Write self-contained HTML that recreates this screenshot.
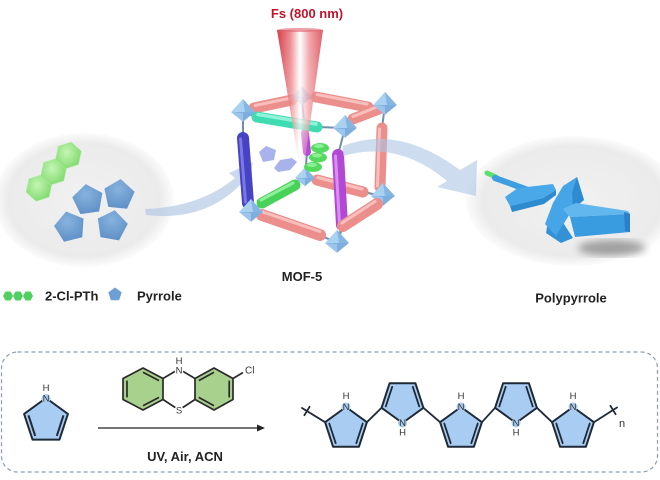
<!DOCTYPE html>
<html><head><meta charset="utf-8"><style>
html,body{margin:0;padding:0;background:#fff;}
svg{display:block;}
text{font-family:"Liberation Sans",Arial,sans-serif;}
</style></head><body>
<svg width="660" height="480" viewBox="0 0 660 480" xmlns="http://www.w3.org/2000/svg">
<defs>
<radialGradient id="gl" cx="50%" cy="50%" r="50%">
<stop offset="0" stop-color="#f1f1f1"/><stop offset="0.85" stop-color="#ebebeb"/><stop offset="1" stop-color="#ececec" stop-opacity="0.2"/>
</radialGradient>
<linearGradient id="beam" x1="0" x2="1" y1="0" y2="0">
<stop offset="0" stop-color="#d6303c"/><stop offset="0.3" stop-color="#ec8a90"/><stop offset="0.5" stop-color="#ffffff"/><stop offset="0.7" stop-color="#f0a0a5"/><stop offset="1" stop-color="#de5560"/>
</linearGradient>
<linearGradient id="beamfade" x1="0" x2="0" y1="0" y2="1">
<stop offset="0" stop-color="#fff"/><stop offset="0.6" stop-color="#fff" stop-opacity="0.8"/><stop offset="1" stop-color="#fff" stop-opacity="0"/>
</linearGradient>
<mask id="bm" maskUnits="userSpaceOnUse" x="270" y="25" width="60" height="160">
<rect x="270" y="28" width="60" height="155" fill="url(#beamfade)"/>
</mask>
<radialGradient id="gh" cx="40%" cy="40%" r="60%"><stop offset="0" stop-color="#c4f5b4"/><stop offset="1" stop-color="#86dc74"/></radialGradient>
<radialGradient id="bp" cx="45%" cy="35%" r="70%"><stop offset="0" stop-color="#86b2de"/><stop offset="1" stop-color="#5f90c6"/></radialGradient>
<g id="node">
<polygon points="0,-12 11,0 -11,0" fill="#a9d1f2"/>
<polygon points="0,-12 11,0 2,1" fill="#86b5e2"/>
<polygon points="-11,0 11,0 0,9" fill="#7eaedd"/>
<polygon points="-11,0 0,1 0,9" fill="#9cc5ec"/>
</g>
<polygon id="pent" points="0,-16 15.2,-4.9 9.4,12.9 -9.4,12.9 -15.2,-4.9"/>
<polygon id="hex" points="0,-13.5 11.7,-6.75 11.7,6.75 0,13.5 -11.7,6.75 -11.7,-6.75"/>
<filter id="blur"><feGaussianBlur stdDeviation="4"/></filter>
</defs>

<!-- left ellipse -->
<ellipse cx="84" cy="200" rx="90" ry="67" fill="url(#gl)"/>
<!-- right ellipse -->
<ellipse cx="573" cy="201" rx="107" ry="65" fill="url(#gl)"/>

<!-- green hexes -->
<g fill="url(#gh)" stroke="#a8ea98" stroke-width="0.6">
<use href="#hex" transform="translate(39,188) rotate(12)"/>
<use href="#hex" transform="translate(53.7,171.7) rotate(12)"/>
<use href="#hex" transform="translate(68.4,155.4) rotate(12)"/>
</g>
<!-- blue pentagons -->
<g fill="url(#bp)">
<use href="#pent" transform="translate(88,200) rotate(-8)"/>
<use href="#pent" transform="translate(119,195) rotate(6)"/>
<use href="#pent" transform="translate(70,227) rotate(-14)"/>
<use href="#pent" transform="translate(112,226) rotate(10)"/>
</g>

<!-- left arrow -->
<path d="M145,209 Q200,207 235,178 L229,173 L253,162 L248,187 L242,183 Q205,222 146,215 Z" fill="#b5c9e6" opacity="0.7"/>

<!-- cube back layer -->
<g stroke-linecap="round">
<g stroke="#6f8fae" stroke-width="2">
<line x1="292" y1="100" x2="316" y2="97"/>
<line x1="368" y1="107" x2="385" y2="105"/>
<line x1="385" y1="105" x2="382" y2="128"/>
<line x1="380" y1="187" x2="383" y2="196"/>
<line x1="363" y1="192" x2="383" y2="196"/>
<line x1="307" y1="152" x2="305" y2="178"/>
<line x1="305" y1="178" x2="317" y2="180"/>
<line x1="302" y1="99" x2="305" y2="133"/>
</g>
<line x1="254" y1="108" x2="292" y2="100" stroke="#ec8f8c" stroke-width="11"/>
<line x1="255" y1="105.5" x2="291" y2="98" stroke="#f7c0bd" stroke-width="3"/>
<line x1="316" y1="97" x2="368" y2="107" stroke="#ec8f8c" stroke-width="11"/>
<line x1="317" y1="94.5" x2="367" y2="104" stroke="#f7c0bd" stroke-width="3"/>
<line x1="305" y1="133" x2="307" y2="152" stroke="#b449d6" stroke-width="8"/>
<line x1="317" y1="180" x2="363" y2="192" stroke="#ec8f8c" stroke-width="11"/>
<line x1="318" y1="177.5" x2="362" y2="189" stroke="#f7c0bd" stroke-width="3"/>
<line x1="382" y1="128" x2="380" y2="187" stroke="#ec8f8c" stroke-width="11"/>
<line x1="379.5" y1="129" x2="377.5" y2="186" stroke="#f7c0bd" stroke-width="3"/>
<line x1="353" y1="119" x2="379" y2="109" stroke="#ec8f8c" stroke-width="11"/>
<line x1="353" y1="116.5" x2="378" y2="106.5" stroke="#f7c0bd" stroke-width="3"/>
</g>
<use href="#node" transform="translate(302,97) scale(0.9)"/>
<use href="#node" transform="translate(385,105) scale(1.08)"/>
<use href="#node" transform="translate(383,196) scale(1.08)"/>
<use href="#node" transform="translate(305,178) scale(0.9)"/>

<!-- lavender pieces & green blobs in pore -->
<polygon points="259,152 266,146 276,150 274,160 263,162" fill="#a8b3ec"/>
<polygon points="274,168 280,160 292,158 297,162 290,170 278,172" fill="#a8b3ec"/>
<g fill="#55da60">
<ellipse cx="320" cy="148" rx="9" ry="5"/>
<ellipse cx="318" cy="157.5" rx="9" ry="5"/>
<ellipse cx="313" cy="167" rx="9" ry="5"/>
</g>
<g fill="#8cef96">
<ellipse cx="319" cy="146" rx="5" ry="2"/>
<ellipse cx="317" cy="155.5" rx="5" ry="2"/>
<ellipse cx="312" cy="165" rx="5" ry="2"/>
</g>

<!-- cube front layer -->
<g stroke-linecap="round">
<g stroke="#6f8fae" stroke-width="2">
<line x1="243" y1="112" x2="243" y2="138"/>
<line x1="243" y1="112" x2="257" y2="117"/>
<line x1="317" y1="127" x2="345" y2="128"/>
<line x1="345" y1="128" x2="338" y2="155"/>
<line x1="251" y1="212" x2="248" y2="203"/>
<line x1="251" y1="212" x2="262" y2="215"/>
<line x1="251" y1="212" x2="262" y2="203"/>
<line x1="337" y1="243" x2="342" y2="225"/>
<line x1="337" y1="243" x2="320" y2="235"/>
<line x1="337" y1="243" x2="343" y2="226"/>
</g>
<line x1="257" y1="117" x2="317" y2="127" stroke="#3fdcb2" stroke-width="11"/>
<line x1="258" y1="114.5" x2="316" y2="124" stroke="#90f2d8" stroke-width="3.5"/>
<line x1="262" y1="203" x2="295" y2="185" stroke="#48d25a" stroke-width="11"/>
<line x1="261" y1="200" x2="293" y2="183" stroke="#8ff09a" stroke-width="3"/>
<line x1="243" y1="138" x2="248" y2="203" stroke="#4644c4" stroke-width="12"/>
<line x1="240.5" y1="139" x2="245.5" y2="202" stroke="#7b79e6" stroke-width="3"/>
<line x1="338" y1="155" x2="342" y2="225" stroke="#b249d4" stroke-width="12"/>
<line x1="335.5" y1="156" x2="339.5" y2="224" stroke="#dc8ef2" stroke-width="3"/>
<line x1="262" y1="215" x2="320" y2="235" stroke="#ec8f8c" stroke-width="12"/>
<line x1="263" y1="212" x2="320" y2="231.5" stroke="#f7c0bd" stroke-width="3"/>
<line x1="343" y1="226" x2="377" y2="204" stroke="#ec8f8c" stroke-width="12"/>
<line x1="342" y1="223" x2="375" y2="201.5" stroke="#f7c0bd" stroke-width="3"/>
</g>
<use href="#node" transform="translate(243,112) scale(1.08)"/>
<use href="#node" transform="translate(251,212) scale(1.08)"/>
<use href="#node" transform="translate(345,128) scale(1.08)"/>
<use href="#node" transform="translate(337,243) scale(1.08)"/>

<!-- beam -->
<g mask="url(#bm)">
<polygon points="277,30 323,30 302,182" fill="url(#beam)" opacity="0.95"/>
</g>
<ellipse cx="300" cy="30" rx="23" ry="2" fill="#e0606a" opacity="0.6"/>

<!-- right arrow -->
<path d="M343,146 Q398,124 460,170 L477,160 L476,196 L437,187 L447,181 Q398,140 343,156 Z" fill="#aec4e4" opacity="0.6"/>

<!-- polypyrrole 3D -->
<ellipse cx="612" cy="248" rx="34" ry="8" fill="#555" opacity="0.5" filter="url(#blur)"/>
<line x1="487" y1="173" x2="496" y2="177" stroke="#5ae06e" stroke-width="5" stroke-linecap="round"/>
<line x1="495" y1="178" x2="528" y2="190" stroke="#3d9ee0" stroke-width="6" stroke-linecap="round"/>
<polygon points="505,197 518,188 553,184 556,190 543,198 510,206" fill="#4aa8e8"/>
<polygon points="510,206 543,198 556,190 556,195 544,204 512,212" fill="#2f8bd0"/>
<polygon points="548,222 562,221 573,238 561,243 546,233" fill="#3391d6"/>
<polygon points="563,186 577,177 584,200 573,209 556,236 545,224 553,203" fill="#45a5e6"/>
<polygon points="577,177 584,200 573,209 572,193" fill="#2f8bd0"/>
<polygon points="563,209 576,203 628,211 630,214 570,217" fill="#62b8ee"/>
<polygon points="570,217 630,214 630,232 575,237" fill="#3a9ce0"/>
<polygon points="624,212 630,214 630,232 625,231" fill="#2a80c8"/>

<!-- labels top -->
<text x="307" y="18" font-size="13" font-weight="bold" fill="#c0142c" text-anchor="middle">Fs (800 nm)</text>
<text x="302" y="281" font-size="13" font-weight="bold" fill="#222" text-anchor="middle">MOF-5</text>
<text x="571" y="302.5" font-size="13" font-weight="bold" fill="#222" text-anchor="middle">Polypyrrole</text>

<!-- legend -->
<g fill="#4fd160">
<polygon points="3,296 5.5,291.5 10.5,291.5 13,296 10.5,300.5 5.5,300.5"/>
<polygon points="13,296 15.5,291.5 20.5,291.5 23,296 20.5,300.5 15.5,300.5"/>
<polygon points="23,296 25.5,291.5 30.5,291.5 33,296 30.5,300.5 25.5,300.5"/>
</g>
<polygon points="115,287.5 121.7,292.4 119.1,300.3 110.9,300.3 108.3,292.4" fill="#6d9fd6"/>
<text x="45" y="300.5" font-size="13" font-weight="bold" fill="#222">2-Cl-PTh</text>
<text x="137" y="300.5" font-size="13" font-weight="bold" fill="#222">Pyrrole</text>

<!-- dashed box -->
<rect x="1.5" y="352" width="656" height="120" rx="16" ry="16" fill="none" stroke="#8b9db5" stroke-width="1.2" stroke-dasharray="4,3"/>

<!-- monomer pyrrole -->
<g stroke="#1f2a36" stroke-width="2" stroke-linejoin="round">
<polygon points="46,398 67.9,413.9 59.5,439.6 32.5,439.6 24.1,413.9" fill="#a9cdf2"/>
<line x1="63.5" y1="415.3" x2="56.8" y2="435.9"/>
<line x1="35.2" y1="435.9" x2="28.5" y2="415.3"/>
</g>
<circle cx="46" cy="398.5" r="4.5" fill="#a9cdf2"/>
<g font-size="9.5" fill="#333" text-anchor="middle">
<text x="46" y="401.5">N</text>
<text x="46" y="391">H</text>
</g>

<!-- phenothiazine -->
<g stroke="#2a2a2a" stroke-width="1.7" stroke-linejoin="round" fill="#a9d18e">
<polygon points="143,368 163,378.5 163,399.5 143,410 123,399.5 123,378.5"/>
<polygon points="214,368 233,378.5 233,399.5 214,410 195,399.5 195,378.5"/>
<polyline points="163,378.5 179,369 195,378.5" fill="none"/>
<polyline points="163,399.5 179,410 195,399.5" fill="none"/>
<line x1="143" y1="372.2" x2="159" y2="380.6"/>
<line x1="159" y1="397.4" x2="143" y2="405.8"/>
<line x1="127" y1="397.4" x2="127" y2="380.6"/>
<line x1="229.2" y1="380.6" x2="229.2" y2="397.4"/>
<line x1="214" y1="405.8" x2="198.8" y2="397.4"/>
<line x1="198.8" y1="380.6" x2="214" y2="372.2"/>
<line x1="233" y1="378.5" x2="243" y2="372.5"/>
</g>
<circle cx="179" cy="370" r="4.5" fill="#fff"/>
<circle cx="179" cy="410" r="4.5" fill="#fff"/>
<g font-size="9.5" fill="#333" text-anchor="middle">
<text x="179" y="373.5">N</text>
<text x="179" y="364">H</text>
<text x="179" y="413.5">S</text>
</g>
<text x="245" y="373.5" font-size="10" fill="#333">Cl</text>

<!-- reaction arrow -->
<line x1="98" y1="428" x2="259" y2="428" stroke="#222" stroke-width="1.3"/>
<polygon points="265,428 257,424.5 257,431.5" fill="#222"/>
<text x="185" y="461" font-size="13" font-weight="bold" fill="#222" text-anchor="middle">UV, Air, ACN</text>

<!-- polypyrrole chain -->
<g stroke="#1f2a36" stroke-width="2" stroke-linejoin="round" fill="#a9cdf2">
<polygon points="346,407 366.9,422.2 358.9,446.8 333.1,446.8 325.1,422.2"/>
<polygon points="402.5,423 423.4,407.8 415.4,383.2 389.6,383.2 381.6,407.8"/>
<polygon points="461,407 481.9,422.2 473.9,446.8 448.1,446.8 440.1,422.2"/>
<polygon points="516,423 536.9,407.8 528.9,383.2 503.1,383.2 495.1,407.8"/>
<polygon points="573,407 593.9,422.2 585.9,446.8 560.1,446.8 552.1,422.2"/>
</g>
<g stroke="#1f2a36" stroke-width="1.8" stroke-linecap="round">
<line x1="362.7" y1="423.6" x2="356.3" y2="443.2"/>
<line x1="335.7" y1="443.2" x2="329.3" y2="423.6"/>
<line x1="419.2" y1="406.4" x2="412.8" y2="386.8"/>
<line x1="392.2" y1="386.8" x2="385.8" y2="406.4"/>
<line x1="477.7" y1="423.6" x2="471.3" y2="443.2"/>
<line x1="450.7" y1="443.2" x2="444.3" y2="423.6"/>
<line x1="532.7" y1="406.4" x2="526.3" y2="386.8"/>
<line x1="505.7" y1="386.8" x2="499.3" y2="406.4"/>
<line x1="589.7" y1="423.6" x2="583.3" y2="443.2"/>
<line x1="562.7" y1="443.2" x2="556.3" y2="423.6"/>
<line x1="366.9" y1="422.2" x2="381.6" y2="407.8"/>
<line x1="423.4" y1="407.8" x2="440.1" y2="422.2"/>
<line x1="481.9" y1="422.2" x2="495.1" y2="407.8"/>
<line x1="536.9" y1="407.8" x2="552.1" y2="422.2"/>
<line x1="593.9" y1="422.2" x2="617" y2="407.5"/>
<line x1="302" y1="408" x2="325.1" y2="422.2"/>
<line x1="309.6" y1="406.8" x2="304.4" y2="415.2"/>
<line x1="615.6" y1="414.2" x2="610.4" y2="405.8"/>
</g>
<g fill="#a9cdf2">
<circle cx="346" cy="407" r="4.5"/>
<circle cx="402.5" cy="423" r="4.5"/>
<circle cx="461" cy="407" r="4.5"/>
<circle cx="516" cy="423" r="4.5"/>
<circle cx="573" cy="407" r="4.5"/>
</g>
<g font-size="9.5" fill="#333" text-anchor="middle">
<text x="346" y="410">N</text><text x="346" y="399">H</text>
<text x="402.5" y="426">N</text><text x="402.5" y="435.5">H</text>
<text x="461" y="410">N</text><text x="461" y="399">H</text>
<text x="516" y="426">N</text><text x="516" y="435.5">H</text>
<text x="573" y="410">N</text><text x="573" y="399">H</text>
</g>
<text x="619" y="427" font-size="11" fill="#333">n</text>
</svg>
</body></html>
